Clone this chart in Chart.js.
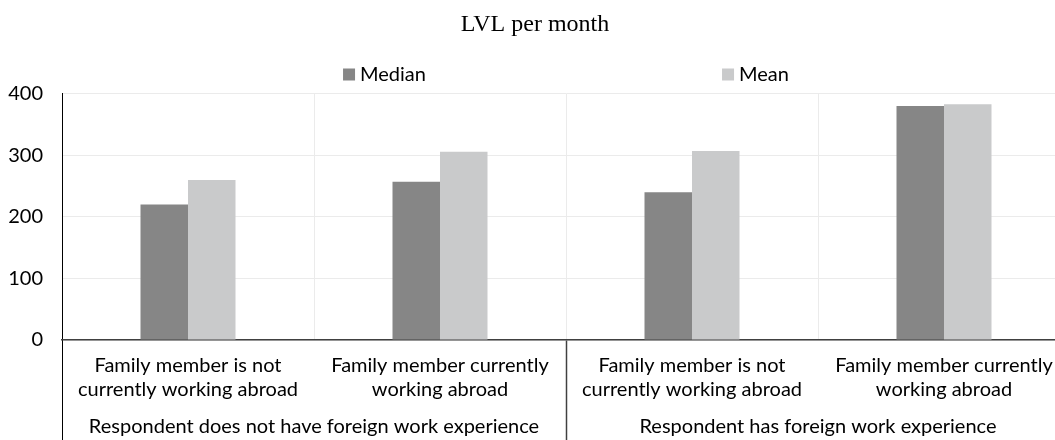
<!DOCTYPE html>
<html>
<head>
<meta charset="utf-8">
<script src="https://cdn.jsdelivr.net/npm/chart.js@4/dist/chart.umd.min.js"></script>
<style>
  html, body { margin: 0; padding: 0; background: #fff; }
  #wrap { width: 1055px; height: 440px; overflow: hidden; position: relative; background: #fff; }
  canvas { display: block; }
</style>
</head>
<body>
<div id="wrap"><canvas id="c" width="1090" height="440"></canvas></div>
<script>
// ---- data ----
const titleText = "LVL per month";
const categories = [
  ["Family member is not", "currently working abroad"],
  ["Family member currently", "working abroad"],
  ["Family member is not", "currently working abroad"],
  ["Family member currently", "working abroad"]
];
const groups = [
  "Respondent does not have foreign work experience",
  "Respondent has foreign work experience"
];
const seriesNames = ["Median", "Mean"];
const medianValues = [220, 257, 240, 380];
const meanValues = [260, 306, 307, 383];
const yTickValues = [0, 100, 200, 300, 400];

// ---- styles ----
const FONT = "Lato";
const colors = ["#868686", "#c9cacb"];

const gapLegend = {
  id: "gapLegend",
  afterDraw(chart, args, opts) {
    const ctx = chart.ctx;
    const area = chart.chartArea;
    ctx.save();
    ctx.font = opts.size + "px " + FONT;
    ctx.textBaseline = "middle";
    ctx.textAlign = "left";
    const items = chart.data.datasets.map(ds => ({
      text: ds.label, color: ds.backgroundColor,
      w: opts.box + opts.textGap + ctx.measureText(ds.label).width
    }));
    const step = opts.step; // start-to-start distance between entries
    const total = step * (items.length - 1) + items[items.length - 1].w;
    let x = (area.left + area.right) / 2 - total / 2;
    items.forEach(it => {
      ctx.fillStyle = it.color;
      ctx.fillRect(x, opts.y - opts.box / 2, opts.box, opts.box);
      ctx.fillStyle = "#000";
      ctx.fillText(it.text, x + opts.box + opts.textGap, opts.y);
      x += step;
    });
    ctx.restore();
  }
};

const whiteBg = {
  id: "whiteBg",
  beforeDraw(chart) {
    const c = chart.ctx;
    c.save();
    c.fillStyle = "#fff";
    c.fillRect(0, 0, chart.width, chart.height);
    c.restore();
  }
};

new Chart(document.getElementById("c"), {
  type: "bar",
  data: {
    labels: categories,
    datasets: [
      { label: seriesNames[0], data: medianValues, backgroundColor: colors[0] },
      { label: seriesNames[1], data: meanValues, backgroundColor: colors[1] }
    ]
  },
  options: {
    responsive: false,
    animation: false,
    devicePixelRatio: 1,
    layout: { padding: { left: 0, right: 20, top: 0, bottom: 0 } },
    datasets: { bar: { categoryPercentage: 0.377, barPercentage: 1.0 } },
    plugins: {
      legend: { display: false },
      tooltip: { enabled: false },
      title: {
        display: true,
        text: titleText,
        color: "#000",
        font: { family: "Liberation Serif", size: 24, weight: "normal" },
        padding: { top: 10, bottom: 55 }
      },
      gapLegend: { y: 74.5, box: 12, textGap: 5, size: 20, step: 379 }
    },
    scales: {
      y: {
        min: 0, max: 400,
        afterBuildTicks: (s) => { s.ticks = yTickValues.map(v => ({ value: v })); },
        afterFit: (s) => { s.width = 62; },
        grid: { color: "#ebebeb", drawTicks: false, lineWidth: 1 },
        border: { color: "#000", width: 1 },
        ticks: { color: "#000", padding: 19, font: { family: FONT, size: 20 } }
      },
      x: {
        offset: true,
        afterFit: (s) => { s.height = 64; },
        grid: {
          offset: true,
          color: (c) => c.index === 0 ? "#000" : "#ebebeb",
          tickColor: (c) => c.index === 0 ? "#000" : (c.index === 2 ? "#404040" : "rgba(0,0,0,0)"),
          tickWidth: (c) => c.index === 2 ? 1.5 : 1,
          tickLength: 100
        },
        border: { color: "#404040", width: 1.5 },
        ticks: {
          color: "#000", padding: -86, autoSkip: false, maxRotation: 0, minRotation: 0,
          font: { family: FONT, size: 20, lineHeight: 1.2 }
        }
      },
      x2: {
        type: "category",
        labels: groups,
        position: "bottom",
        offset: true,
        weight: 1,
        afterFit: (s) => { s.height = 36; },
        grid: { display: false, drawTicks: false },
        border: { display: false },
        ticks: { color: "#000", padding: 11, autoSkip: false, maxRotation: 0, font: { family: FONT, size: 20 } }
      }
    }
  },
  plugins: [whiteBg, gapLegend]
});
</script>
</body>
</html>
